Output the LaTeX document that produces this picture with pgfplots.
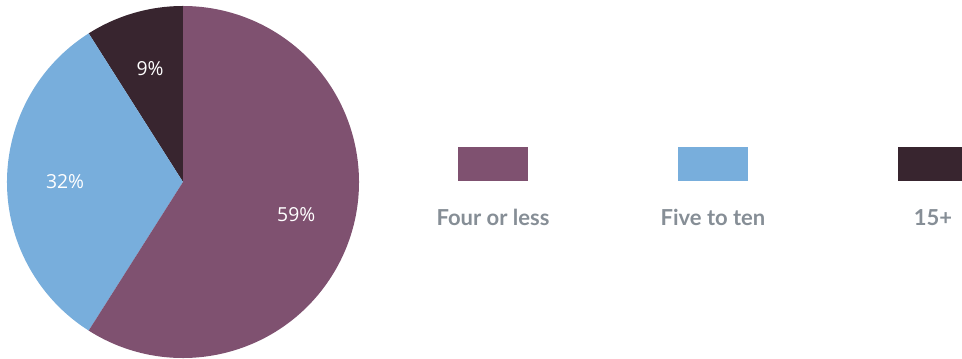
\documentclass[border=0pt]{standalone}
\usepackage{pgfplots}
\pgfplotsset{compat=1.18}
\usepackage{pgfplotstable}
\usepackage{fontspec}
\setmainfont{Open Sans}
\newfontfamily\legfont{Lato}
\definecolor{cfour}{HTML}{7F5170}
\definecolor{cfive}{HTML}{78AEDC}
\definecolor{cfifteen}{HTML}{38252F}
\definecolor{legtext}{HTML}{868E96}

\pgfplotstableread{
slice value
1 9
2 32
3 59
}\piedata

\begin{document}%
\begin{tikzpicture}
\pgfplotstablegetelem{0}{value}\of\piedata\global\let\va\pgfplotsretval
\pgfplotstablegetelem{1}{value}\of\piedata\global\let\vb\pgfplotsretval
\pgfplotstablegetelem{2}{value}\of\piedata\global\let\vc\pgfplotsretval
\pgfmathsetmacro\aA{90}\global\let\aA\aA
\pgfmathsetmacro\aB{\aA+3.6*\va}\global\let\aB\aB
\pgfmathsetmacro\aC{\aB+3.6*\vb}\global\let\aC\aC
\pgfmathsetmacro\aD{\aC+3.6*\vc}\global\let\aD\aD
\pgfmathsetmacro\mA{(\aA+\aB)/2}\global\let\mA\mA
\pgfmathsetmacro\mB{(\aB+\aC)/2}\global\let\mB\mB
\pgfmathsetmacro\mC{(\aC+\aD)/2}\global\let\mC\mC
\useasboundingbox (0,0) rectangle (721.5pt,269.25pt);
\begin{axis}[at={(137.25pt,132.75pt)}, anchor=origin,
  scale only axis, width=264pt, height=264pt,
  xmin=-1, xmax=1, ymin=-1, ymax=1,
  hide axis, disabledatascaling, clip=false]
\fill[cfifteen] (0,0) -- ({cos(\aA)},{sin(\aA)}) arc[start angle=\aA, end angle=\aB, radius=1] -- cycle;
\fill[cfive] (0,0) -- ({cos(\aB)},{sin(\aB)}) arc[start angle=\aB, end angle=\aC, radius=1] -- cycle;
\fill[cfour] (0,0) -- ({cos(\aC)},{sin(\aC)}) arc[start angle=\aC, end angle=\aD, radius=1] -- cycle;
\node[white, font=\fontsize{14.5}{17}\selectfont] at ({0.67*cos(\mA)},{0.67*sin(\mA)}) {\va\%};
\node[white, font=\fontsize{14.5}{17}\selectfont] at ({0.67*cos(\mB)},{0.67*sin(\mB)}) {\vb\%};
\node[white, font=\fontsize{14.5}{17}\selectfont] at ({0.67*cos(\mC)},{0.67*sin(\mC)}) {\vc\%};
\end{axis}
\fill[cfour] (343.5pt,133.5pt) rectangle (396pt,159pt);
\fill[cfive] (508.5pt,133.5pt) rectangle (561pt,159pt);
\fill[cfifteen] (673.5pt,133.5pt) rectangle (726pt,159pt);
\begin{scope}[every node/.style={anchor=base, text=legtext, font=\legfont\bfseries\fontsize{16.5}{20}\selectfont}]
\node at (369.75pt,99.75pt) {Four or less};
\node at (534.75pt,99.75pt) {Five to ten};
\node at (699.75pt,99.75pt) {15+};
\end{scope}
\end{tikzpicture}%
\end{document}
